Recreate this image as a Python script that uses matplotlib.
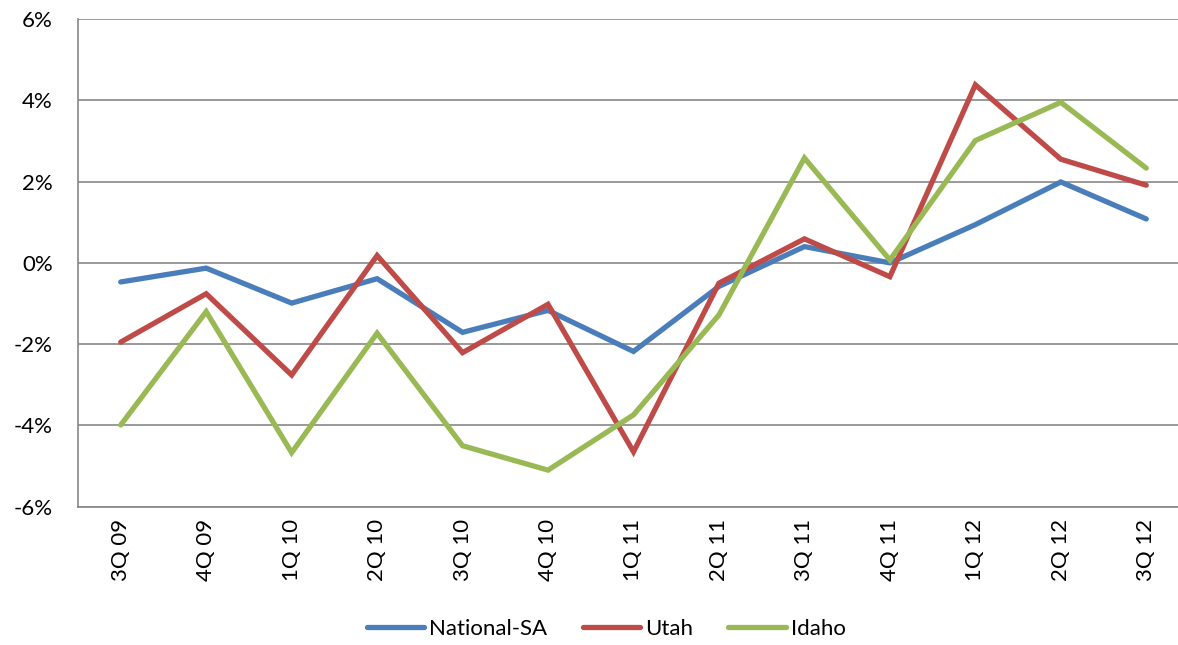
import matplotlib.pyplot as plt
from matplotlib.ticker import FuncFormatter

# Data (percent change)
quarters = ['3Q 09', '4Q 09', '1Q 10', '2Q 10', '3Q 10', '4Q 10', '1Q 11',
            '2Q 11', '3Q 11', '4Q 11', '1Q 12', '2Q 12', '3Q 12']
national = [-0.47, -0.13, -0.99, -0.39, -1.71, -1.17, -2.18,
            -0.58, 0.40, 0.00, 0.94, 1.99, 1.08]
utah = [-1.95, -0.76, -2.76, 0.18, -2.21, -1.02, -4.65,
        -0.50, 0.59, -0.34, 4.38, 2.55, 1.91]
idaho = [-3.99, -1.20, -4.67, -1.73, -4.50, -5.10, -3.74,
         -1.28, 2.58, 0.07, 3.01, 3.95, 2.33]

plt.rcParams['font.family'] = ['Lato', 'DejaVu Sans']

fig = plt.figure(figsize=(11.78, 6.45), dpi=100)
# plot area runs a little past the right edge of the image, like the reference
ax = fig.add_axes([78 / 1178, 1 - 506.7 / 645, (1189 - 78) / 1178, (506.7 - 19) / 645])

x = range(len(quarters))
ax.plot(x, national, color='#4A7EBB', lw=3.8, label='National-SA', solid_capstyle='round', solid_joinstyle='miter')
ax.plot(x, utah, color='#BE4B48', lw=3.8, label='Utah', solid_capstyle='round', solid_joinstyle='miter')
ax.plot(x, idaho, color='#98B954', lw=3.8, label='Idaho', solid_capstyle='round', solid_joinstyle='miter')

ax.set_xlim(-0.5, len(quarters) - 0.5)
ax.set_ylim(-6, 6)
ax.set_yticks(range(-6, 7, 2))
ax.yaxis.set_major_formatter(FuncFormatter(lambda v, p: f'{v:.0f}%'))
ax.set_xticks(list(x))
ax.set_xticklabels(quarters, rotation=90)

ax.grid(axis='y', color='#878787', lw=1.2)
ax.set_axisbelow(True)
for s in ['top', 'right']:
    ax.spines[s].set_visible(False)
for s in ['left', 'bottom']:
    ax.spines[s].set_color('#878787')
    ax.spines[s].set_linewidth(1.2)
ax.tick_params(axis='y', length=0, pad=18, labelsize=16)
ax.tick_params(axis='x', length=0, pad=9, labelsize=16)

fig.legend(loc='center', bbox_to_anchor=(606 / 1178, 1 - 629 / 645), ncol=3,
           frameon=False, fontsize=16, handlelength=2.6, columnspacing=1.6, handletextpad=0.2)

fig.savefig('out.png', dpi=100)
